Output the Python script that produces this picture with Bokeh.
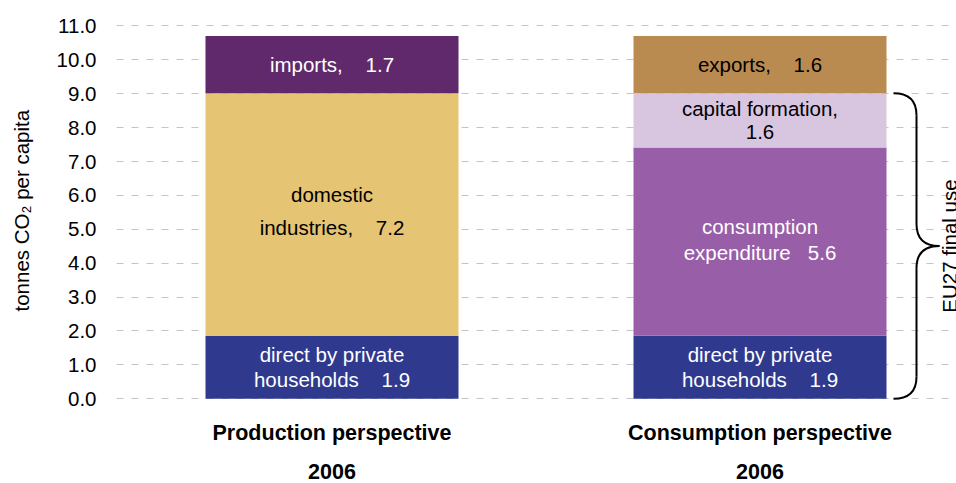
import numpy as np
from bokeh.plotting import figure
from bokeh.models import Range1d, FixedTicker
from bokeh.embed import file_html
from bokeh.resources import INLINE
from bokeh.core.properties import value

# ---------------- data ----------------
categories = ["Production perspective", "Consumption perspective"]
years = ["2006", "2006"]

prod_segments = ["direct by private households", "domestic industries", "imports"]
prod_values = [1.86, 7.15, 1.69]
prod_labels = ["direct by private\nhouseholds    1.9",
               "domestic\nindustries,    7.2",
               "imports,    1.7"]

cons_segments = ["direct by private households", "consumption expenditure",
                 "capital formation", "exports"]
cons_values = [1.86, 5.55, 1.60, 1.69]
cons_labels = ["direct by private\nhouseholds    1.9",
               "consumption\nexpenditure   5.6",
               "capital formation,\n1.6",
               "exports,    1.6"]

y_ticks = list(range(0, 12))
y_title = "tonnes CO\u2082 per capita"
brace_label = "EU27 final use"
n_final_use = 3  # first three consumption segments are EU27 final use

# ---------------- styles ----------------
seg_colors = {
    "direct by private households": "#2F3A8F",
    "domestic industries": "#E5C473",
    "imports": "#60296B",
    "consumption expenditure": "#985EA7",
    "capital formation": "#D8C5E0",
    "exports": "#B98B50",
}
seg_text_colors = {
    "direct by private households": "white",
    "domestic industries": "black",
    "imports": "white",
    "consumption expenditure": "white",
    "capital formation": "black",
    "exports": "black",
}
seg_line_gap = {  # pixel distance between two label lines
    "direct by private households": 25,
    "domestic industries": 33,
    "imports": 25,
    "consumption expenditure": 26,
    "capital formation": 24,
    "exports": 25,
}
seg_label_shift = {  # pixel shift of label block (positive = up)
    "direct by private households": 0,
    "domestic industries": 4,
    "imports": 0,
    "consumption expenditure": 2,
    "capital formation": 0,
    "exports": 0,
}

FONT = value("Liberation Sans")
FS = "20.5px"
FS_BOLD = "21.5px"
NB = "\u00a0"

W, H = 956, 483
FRAME_LEFT = 116
FRAME_W = W - FRAME_LEFT
PXU_X = 428.0
x_start = 1 - 215.5 / PXU_X
x_end = x_start + FRAME_W / PXU_X
y_lo, y_hi = -2.5, 11.75
PXU_Y = H / (y_hi - y_lo)
bar_w = 253 / PXU_X

p = figure(width=W, height=H, output_backend="svg", toolbar_location=None,
           x_range=Range1d(x_start, x_end), y_range=Range1d(y_lo, y_hi),
           x_axis_location=None, min_border_left=FRAME_LEFT,
           min_border_right=0, min_border_top=0, min_border_bottom=0)
p.outline_line_color = None
p.background_fill_color = "white"
p.border_fill_color = "white"
p.xgrid.visible = False

p.yaxis.ticker = FixedTicker(ticks=y_ticks)
p.yaxis.major_label_overrides = {t: f"{t:.1f}" for t in y_ticks}
p.yaxis.axis_line_color = None
p.yaxis.major_tick_line_color = None
p.yaxis.minor_tick_line_color = None
p.yaxis.major_label_text_font = "Liberation Sans"
p.yaxis.major_label_text_font_size = FS
p.yaxis.major_label_text_color = "black"
p.yaxis.major_label_standoff = 14
# the axis title is centred on the whole frame; pad its start so that the
# visible words sit centred on the 0..11 tick span like in the original
p.yaxis.axis_label = NB * 11 + y_title
p.yaxis.axis_label_text_font = "Liberation Sans"
p.yaxis.axis_label_text_font_size = FS
p.yaxis.axis_label_text_font_style = "normal"
p.yaxis.axis_label_text_color = "black"
p.yaxis.axis_label_standoff = 21

p.ygrid.grid_line_color = "#C4C4C4"
p.ygrid.grid_line_dash = "7 8"
p.ygrid.grid_line_width = 1


def draw_bar(xpos, segments, values, labels):
    vals = np.array(values)
    tops = np.cumsum(vals)
    bottoms = tops - vals
    p.vbar(x=[xpos] * len(vals), width=bar_w, bottom=bottoms, top=tops,
           fill_color=[seg_colors[s] for s in segments], line_color=None)
    for s, b, t, lab in zip(segments, bottoms, tops, labels):
        mid = (b + t) / 2
        lines = [ln.replace(" ", NB) for ln in lab.split("\n")]
        gap = seg_line_gap[s]
        n = len(lines)
        offs = [(i - (n - 1) / 2) * gap - seg_label_shift[s] for i in range(n)]
        p.text(x=[xpos] * n, y=[mid] * n, text=lines, y_offset=offs,
               text_align="center", text_baseline="middle",
               text_font=FONT, text_font_size=FS,
               text_color=seg_text_colors[s])


draw_bar(1, prod_segments, prod_values, prod_labels)
draw_bar(2, cons_segments, cons_values, cons_labels)

# category labels below the bars
xs = [1, 2]
p.text(x=xs, y=[-34 / PXU_Y] * 2, text=categories, text_align="center",
       text_baseline="middle", text_font=FONT, text_font_size=FS_BOLD,
       text_font_style="bold", text_color="black")
p.text(x=xs, y=[-73 / PXU_Y] * 2, text=years, text_align="center",
       text_baseline="middle", text_font=FONT, text_font_size=FS_BOLD,
       text_font_style="bold", text_color="black")

# brace for EU27 final use
xr = 2 + bar_w / 2
x0 = xr + 7 / PXU_X
x1 = xr + 30 / PXU_X
x2 = xr + 53 / PXU_X
ybot = 0.0
ytop = float(np.sum(cons_values[:n_final_use]))
ymid = (ytop + ybot) / 2
r = 22 / PXU_Y
p.quadratic(x0=[x0, x1, x2, x1], y0=[ytop, ymid + r, ymid, ybot + r],
            x1=[x1, x2, x1, x0], y1=[ytop - r, ymid, ymid - r, ybot],
            cx=[x1, x1, x1, x1], cy=[ytop, ymid, ymid, ybot],
            line_color="black", line_width=2)
p.segment(x0=[x1, x1], y0=[ytop - r, ymid - r], x1=[x1, x1], y1=[ymid + r, ybot + r],
          line_color="black", line_width=2)
p.text(x=[xr + 63 / PXU_X], y=[ymid], text=[brace_label], angle=np.pi / 2,
       text_align="center", text_baseline="middle", text_font=FONT,
       text_font_size=FS, text_color="black")

open("out.html", "w").write(file_html(p, INLINE))
